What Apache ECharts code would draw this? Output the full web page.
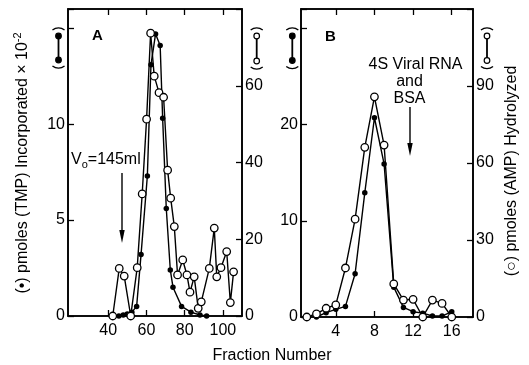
<!DOCTYPE html>
<html>
<head>
<meta charset="utf-8">
<script src="https://cdn.jsdelivr.net/npm/echarts@6/dist/echarts.min.js"></script>
<style>
html,body{margin:0;padding:0;background:#fff;}
#c{width:529px;height:365px;}
</style>
</head>
<body>
<div id="c"></div>
<script>
// Panel A
const A_FRACTION_FILLED = [45.6, 47.9, 50.0, 52.4, 54.9, 57.2, 60.5, 62.4, 64.8, 67.2, 68.5, 70.4, 72.5, 73.9, 78.4, 83.3, 88.0, 91.5];
const A_TMP = [0, 0.05, 0.1, 0.2, 0.5, 3.2, 7.3, 13.1, 14.7, 14.1, 10.3, 5.6, 2.4, 1.5, 0.5, 0.2, 0.05, 0];
const A_FRACTION_OPEN = [42.4, 45.8, 48.4, 51.8, 55.2, 57.8, 60.1, 62.2, 64.1, 66.6, 69.0, 71.1, 72.7, 74.6, 76.3, 79.0, 81.2, 82.8, 85.0, 87.1, 88.7, 92.9, 95.5, 96.8, 99.0, 102.0, 103.9, 105.6];
const A_AMP = [0, 12.4, 10.4, 0, 12.6, 31.8, 51.3, 73.7, 62.5, 58.2, 57.0, 38.0, 30.7, 23.3, 10.7, 14.6, 10.7, 6.2, 10.2, 2.0, 3.7, 12.4, 22.9, 10.2, 12.6, 16.8, 3.5, 11.5];
// Panel B
const B_FRACTION_FILLED = [2, 3, 4, 5, 6, 7, 8, 9, 10, 11, 12, 13, 14, 15, 16];
const B_TMP = [0, 0.45, 0.8, 1.1, 4.5, 12.9, 20.7, 15.9, 3.1, 1.0, 0.55, 0.4, 0.1, 0.1, 0.55];
const B_FRACTION_OPEN = [1, 2, 3, 4, 5, 6, 7, 8, 9, 10, 11, 12, 13, 14, 15, 16];
const B_AMP = [0, 1.2, 3.4, 4.7, 19.1, 38.1, 66.1, 85.8, 67.0, 12.9, 6.6, 6.9, 0, 6.6, 5.3, 0];
// Ticks
const A_X_TICKS = [40, 60, 80, 100];
const B_X_TICKS = [4, 8, 12, 16];
const A_LEFT_LABELS = [0, 5, 10];
const A_RIGHT_LABELS = [0, 20, 40, 60];
const B_LEFT_LABELS = [0, 10, 20];
const B_RIGHT_LABELS = [0, 30, 60, 90];

const FONT = "'Liberation Sans', Arial, Helvetica, sans-serif";
const zip = (xs, ys) => xs.map((x, i) => [x, ys[i]]);

const chart = echarts.init(document.getElementById('c'), null, {renderer: 'canvas'});

function xAx(grid, min, max, ticks, pos, showLabel) {
  return {
    gridIndex: grid, type: 'value', min: min, max: max, position: pos,
    axisLine: {show: true, onZero: false, lineStyle: {color: '#000', width: 1.6}},
    axisTick: {show: true, inside: true, length: 6, customValues: ticks, lineStyle: {color: '#000', width: 1.3}},
    axisLabel: {show: showLabel, customValues: ticks, color: '#000', fontSize: 16, fontFamily: FONT, margin: 7},
    splitLine: {show: false}
  };
}
function yAx(grid, max, interval, labels, pos) {
  return {
    gridIndex: grid, type: 'value', min: 0, max: max, interval: interval, position: pos,
    axisLine: {show: true, onZero: false, lineStyle: {color: '#000', width: 1.6}},
    axisTick: {show: true, inside: true, length: 6, lineStyle: {color: '#000', width: 1.3}},
    axisLabel: {color: '#000', fontSize: 16, fontFamily: FONT, margin: 3,
      showMaxLabel: true,
      formatter: v => labels.indexOf(v) >= 0 ? String(v) : ''},
    splitLine: {show: false}
  };
}
function filled(xi, yi, data) {
  return {type: 'line', xAxisIndex: xi, yAxisIndex: yi, data: data, symbol: 'circle', symbolSize: 5.5,
    itemStyle: {color: '#000'}, lineStyle: {color: '#000', width: 1.4}, z: 2, silent: true};
}
function open(xi, yi, data) {
  return {type: 'line', xAxisIndex: xi, yAxisIndex: yi, data: data, symbol: 'circle', symbolSize: 7.5,
    showAllSymbol: true,
    itemStyle: {color: '#fff', borderColor: '#000', borderWidth: 1.3}, lineStyle: {color: '#000', width: 1.4}, z: 3, silent: true};
}

function dumbbell(x, y1, y2, isOpen) {
  const els = [];
  const r = 10, a = 0.65;
  els.push({type: 'arc', shape: {cx: x, cy: y1 - 8 + r, r: r, startAngle: -Math.PI/2 - a, endAngle: -Math.PI/2 + a}, style: {stroke: '#000', lineWidth: 1.3, fill: null}});
  els.push({type: 'arc', shape: {cx: x, cy: y2 + 8 - r, r: r, startAngle: Math.PI/2 - a, endAngle: Math.PI/2 + a}, style: {stroke: '#000', lineWidth: 1.3, fill: null}});
  els.push({type: 'line', shape: {x1: x, y1: y1, x2: x, y2: y2}, style: {stroke: '#000', lineWidth: 1.8}});
  els.push({type: 'circle', shape: {cx: x, cy: y1, r: 2.8}, style: {fill: isOpen ? '#fff' : '#000', stroke: '#000', lineWidth: 1.2}});
  els.push({type: 'circle', shape: {cx: x, cy: y2, r: 2.8}, style: {fill: isOpen ? '#fff' : '#000', stroke: '#000', lineWidth: 1.2}});
  return els;
}
function arrow(x, yTop, yBot) {
  return [
    {type: 'line', shape: {x1: x, y1: yTop, x2: x, y2: yBot - 6}, style: {stroke: '#000', lineWidth: 1.4}},
    {type: 'polygon', shape: {points: [[x - 2.7, yBot - 13], [x + 2.7, yBot - 13], [x, yBot]]}, style: {fill: '#000'}}
  ];
}
function txt(x, y, text, size, weight) {
  return {type: 'text', x: x, y: y, style: {text: text, fill: '#000', font: (weight || '') + ' ' + size + 'px ' + FONT, align: 'center', verticalAlign: 'middle'}};
}

const graphics = [].concat(
  dumbbell(58.5, 36, 60, false),
  dumbbell(256.7, 36, 61, true),
  dumbbell(292.3, 36, 60.5, false),
  dumbbell(487.0, 36, 60.5, true),
  arrow(122, 173, 243),
  arrow(410, 107, 156),
  [
    txt(97.5, 36, 'A', 15, 'bold'),
    txt(330.5, 36.5, 'B', 15, 'bold'),
    {type: 'text', x: 71, y: 160, style: {text: 'V{sub|o}=145ml', fill: '#000', font: '16px ' + FONT, align: 'left', verticalAlign: 'middle',
      rich: {sub: {fontSize: 11, fontFamily: FONT, padding: [9, 0, 0, 0]}}}},
    txt(415.5, 65, '4S Viral RNA', 16),
    txt(409.5, 81.5, 'and', 16),
    txt(409.5, 99, 'BSA', 16),
    txt(272, 356, 'Fraction Number', 16),
    {type: 'text', x: 23, y: 163, rotation: Math.PI / 2,
      style: {text: '(•) pmoles (TMP) Incorporated × 10{sup|-2}', fill: '#000', font: '16px ' + FONT, align: 'center', verticalAlign: 'middle',
        rich: {sup: {fontSize: 11, fontFamily: FONT, padding: [0, 0, 11, 0]}}}},
    {type: 'text', x: 512, y: 171, rotation: Math.PI / 2,
      style: {text: '(○) pmoles (AMP) Hydrolyzed', fill: '#000', font: '16px ' + FONT, align: 'center', verticalAlign: 'middle'}}
  ]
);

chart.setOption({
  animation: false,
  backgroundColor: '#fff',
  grid: [
    {left: 68, top: 9, width: 174, height: 307, show: true, borderColor: '#000', borderWidth: 1.6, backgroundColor: 'transparent'},
    {left: 301, top: 9, width: 172, height: 308, show: true, borderColor: '#000', borderWidth: 1.6, backgroundColor: 'transparent'}
  ],
  xAxis: [
    xAx(0, 19, 110, A_X_TICKS, 'bottom', true),
    xAx(0, 19, 110, A_X_TICKS, 'top', false),
    xAx(1, 0.4, 18.2, B_X_TICKS, 'bottom', true),
    xAx(1, 0.4, 18.2, B_X_TICKS, 'top', false)
  ],
  yAxis: [
    yAx(0, 16, 5, A_LEFT_LABELS, 'left'),
    yAx(0, 80, 20, A_RIGHT_LABELS, 'right'),
    yAx(1, 32, 10, B_LEFT_LABELS, 'left'),
    yAx(1, 120, 30, B_RIGHT_LABELS, 'right')
  ],
  series: [
    filled(0, 0, zip(A_FRACTION_FILLED, A_TMP)),
    open(0, 1, zip(A_FRACTION_OPEN, A_AMP)),
    filled(2, 2, zip(B_FRACTION_FILLED, B_TMP)),
    open(2, 3, zip(B_FRACTION_OPEN, B_AMP))
  ],
  graphic: {elements: graphics}
});
</script>
</body>
</html>
